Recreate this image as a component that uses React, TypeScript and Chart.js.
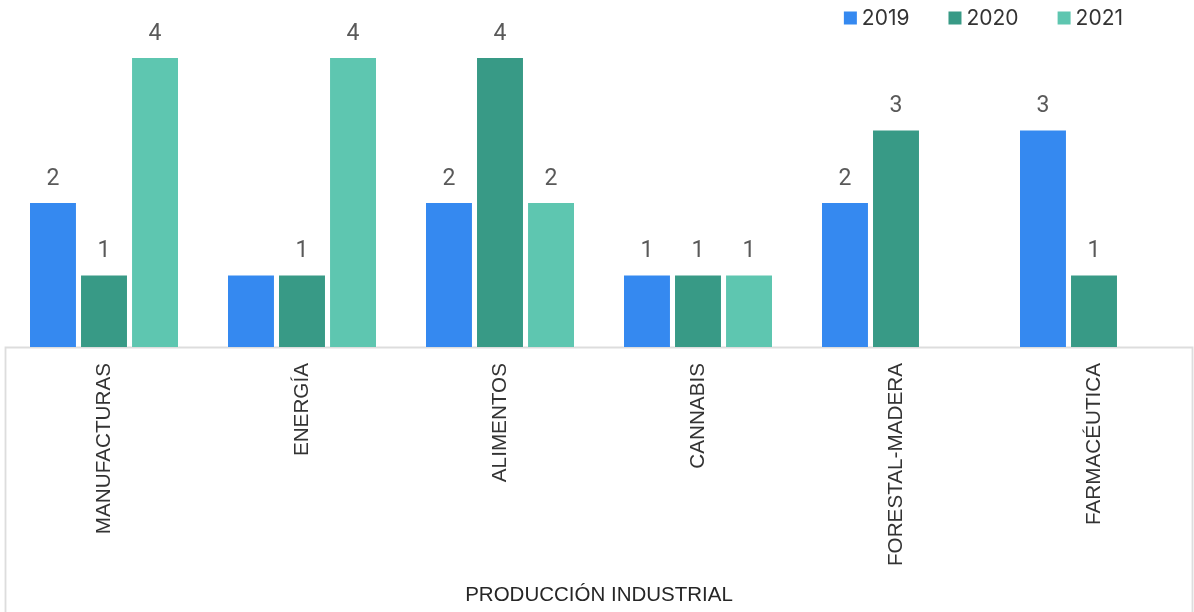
import React, { useEffect, useRef } from "react";
import { Chart, registerables } from "chart.js";

Chart.register(...registerables);

const categories = ["MANUFACTURAS", "ENERGÍA", "ALIMENTOS", "CANNABIS", "FORESTAL-MADERA", "FARMACÉUTICA"];
const seriesNames = ["2019", "2020", "2021"];
const values2019: (number | null)[] = [2, 1, 2, 1, 2, 3];
const values2020: (number | null)[] = [1, 1, 4, 1, 3, 1];
const values2021: (number | null)[] = [4, 4, 2, 1, null, null];
const seriesColors = ["#3589F0", "#389A86", "#5EC6B0"];
const axisTitle = "PRODUCCIÓN INDUSTRIAL";
// value labels that the reference does not show (series, category)
const hiddenValueLabels = [["2019", "ENERGÍA"]];

const boxPlugin = {
  id: "boxPlugin",
  beforeDraw(chart: any) {
    const { ctx, chartArea } = chart;
    ctx.save();
    ctx.strokeStyle = "#dddddd";
    ctx.lineWidth = 1.8;
    ctx.beginPath();
    ctx.moveTo(chartArea.left + 0.5, chart.height + 5);
    ctx.lineTo(chartArea.left + 0.5, chartArea.bottom + 0.5);
    ctx.lineTo(chartArea.right - 0.5, chartArea.bottom + 0.5);
    ctx.lineTo(chartArea.right - 0.5, chart.height + 5);
    ctx.stroke();
    ctx.restore();
  },
};

const valueLabelPlugin = {
  id: "valueLabelPlugin",
  afterDatasetsDraw(chart: any) {
    const { ctx } = chart;
    ctx.save();
    ctx.font = "23px Roboto";
    ctx.fillStyle = "#595959";
    ctx.textAlign = "center";
    ctx.textBaseline = "alphabetic";
    chart.data.datasets.forEach((ds: any, i: number) => {
      const meta = chart.getDatasetMeta(i);
      meta.data.forEach((el: any, j: number) => {
        const v = ds.data[j];
        if (v === null || v === undefined) return;
        const cat = chart.data.labels[j];
        if (hiddenValueLabels.some(([s, c]) => s === ds.label && c === cat)) return;
        ctx.fillText(String(v), el.x, el.y - 17);
      });
    });
    ctx.restore();
  },
};

const legendPlugin = {
  id: "customLegend",
  afterDraw(chart: any) {
    const { ctx } = chart;
    ctx.save();
    ctx.font = "21px Inter";
    ctx.textBaseline = "middle";
    ctx.textAlign = "left";
    const box = 13;
    const gapBoxText = 5;
    const gapItems = 39;
    const widths = chart.data.datasets.map((d: any) => ctx.measureText(d.label).width);
    const total = widths.reduce((a: number, w: number) => a + box + gapBoxText + w, 0) + gapItems * (widths.length - 1);
    let x = chart.width - 71 - total;
    const cy = 18;
    chart.data.datasets.forEach((d: any, i: number) => {
      ctx.fillStyle = d.backgroundColor;
      ctx.fillRect(x, cy - 6.5, box, box);
      ctx.fillStyle = "#333333";
      ctx.fillText(d.label, x + box + gapBoxText, cy + 1);
      x += box + gapBoxText + widths[i] + gapItems;
    });
    ctx.restore();
  },
};

export default function App() {
  const ref = useRef<HTMLCanvasElement | null>(null);
  useEffect(() => {
    document.body.style.margin = "0";
    if (!ref.current) return;
    const series = [values2019, values2020, values2021];
    const chart = new Chart(ref.current, {
      type: "bar",
      data: {
        labels: categories,
        datasets: seriesNames.map((name, i) => ({
          label: name,
          data: series[i],
          backgroundColor: seriesColors[i],
          borderColor: "rgba(255,255,255,0.25)",
          borderWidth: 1,
          categoryPercentage: 0.773,
          barPercentage: 0.94,
        })),
      },
      options: {
        responsive: false,
        animation: false,
        layout: { padding: { left: 5, right: 1, top: 0, bottom: 0 } },
        plugins: {
          legend: { display: false },
          tooltip: { enabled: false },
        },
        scales: {
          x: {
            grid: { display: false, drawTicks: false },
            border: { display: false },
            ticks: {
              autoSkip: false,
              maxRotation: 90,
              minRotation: 90,
              padding: 16,
              color: "#333333",
              font: { family: "'Liberation Sans', Arial, sans-serif", size: 20.7 },
            },
            title: {
              display: true,
              text: axisTitle,
              color: "#262626",
              font: { family: "'Liberation Sans', Arial, sans-serif", size: 20.5 },
              padding: { top: 4, bottom: 4 },
            },
            afterFit(scale: any) {
              scale.height = 265;
            },
          },
          y: {
            display: false,
            min: 0,
            max: 4.786,
          },
        },
      },
      plugins: [boxPlugin, valueLabelPlugin, legendPlugin],
    });
    return () => chart.destroy();
  }, []);
  return <canvas ref={ref} width={1194} height={612} style={{ display: "block" }} />;
}
